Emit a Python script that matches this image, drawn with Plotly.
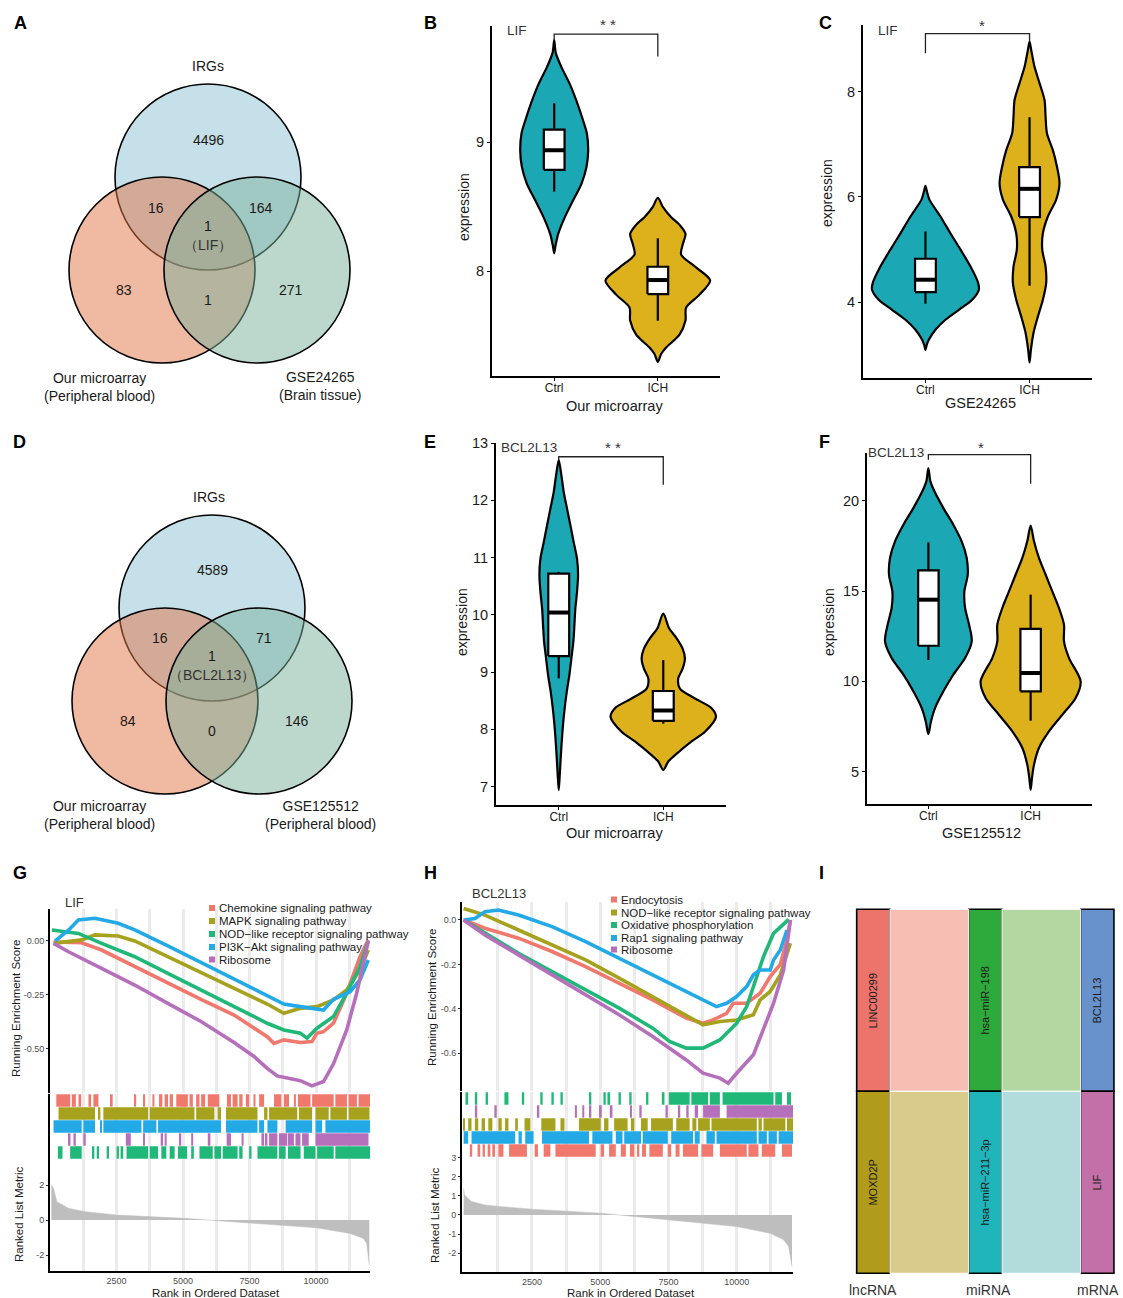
import plotly.graph_objects as go

W, H = 1123, 1298
FONT = "Liberation Sans, Arial, Helvetica, sans-serif"

# ===================== DATA =====================
# --- Venn A / D ---
venn_a_sets = ["IRGs", "Our microarray<br>(Peripheral blood)", "GSE24265<br>(Brain tissue)"]
venn_a_counts = [4496, 16, 164, 1, 83, 1, 271]   # top, top&left, top&right, all, left, left&right, right
venn_a_core = "（LIF）"
venn_d_sets = ["IRGs", "Our microarray<br>(Peripheral blood)", "GSE125512<br>(Peripheral blood)"]
venn_d_counts = [4589, 16, 71, 1, 84, 0, 146]
venn_d_core = "（BCL2L13）"

groups = ["Ctrl", "ICH"]

# --- violins: levels (y) and half-widths (w); boxes = [low whisker, q1, median, q3, high whisker]
b_ctrl_y = [8.14, 8.20, 8.29, 8.42, 8.55, 8.68, 8.81, 8.94, 9.07, 9.19, 9.32, 9.45, 9.58, 9.69, 9.79]
b_ctrl_w = [0, 0.013, 0.039, 0.103, 0.183, 0.264, 0.312, 0.328, 0.315, 0.270, 0.215, 0.151, 0.071, 0.016, 0]
b_ich_y = [7.30, 7.36, 7.41, 7.51, 7.62, 7.72, 7.82, 7.93, 8.03, 8.13, 8.21, 8.29, 8.36, 8.42, 8.50, 8.57]
b_ich_w = [0, 0.032, 0.080, 0.209, 0.267, 0.273, 0.402, 0.505, 0.370, 0.225, 0.241, 0.267, 0.210, 0.129, 0.048, 0]
b_box_ctrl = [8.618, 8.786, 8.938, 9.098, 9.302]
b_box_ich = [7.618, 7.824, 7.933, 8.036, 8.256]
b_sig = [9.79, 9.837, 9.664]

c_ctrl_y = [3.10, 3.20, 3.29, 3.48, 3.67, 3.86, 4.05, 4.24, 4.37, 4.68, 5.00, 5.31, 5.63, 5.95, 6.10, 6.21]
c_ctrl_w = [0, 0.013, 0.032, 0.096, 0.192, 0.321, 0.449, 0.513, 0.506, 0.433, 0.337, 0.240, 0.144, 0.038, 0.015, 0]
c_ich_y = [2.86, 3.10, 3.42, 3.73, 4.05, 4.37, 4.68, 5.00, 5.31, 5.63, 5.95, 6.26, 6.58, 6.89, 7.21, 7.53, 7.84, 8.16, 8.47, 8.79, 8.95]
c_ich_w = [0, 0.013, 0.038, 0.080, 0.128, 0.160, 0.154, 0.122, 0.128, 0.176, 0.256, 0.288, 0.263, 0.224, 0.167, 0.154, 0.144, 0.096, 0.048, 0.016, 0]
c_box_ctrl = [3.975, 4.196, 4.43, 4.828, 5.346]
c_box_ich = [4.316, 5.618, 6.155, 6.566, 7.513]
c_sig = [8.73, 9.10, 8.95]

e_ctrl_y = [6.94, 7.21, 7.50, 7.79, 8.08, 8.37, 8.66, 8.95, 9.24, 9.53, 9.82, 10.11, 10.40, 10.69, 10.98, 11.27, 11.56, 11.85, 12.14, 12.43, 12.70]
e_ctrl_w = [0, 0.010, 0.019, 0.029, 0.041, 0.057, 0.077, 0.102, 0.121, 0.140, 0.150, 0.159, 0.175, 0.185, 0.175, 0.143, 0.112, 0.080, 0.048, 0.026, 0]
e_ich_y = [7.29, 7.44, 7.55, 7.79, 7.96, 8.22, 8.37, 8.54, 8.71, 8.89, 9.06, 9.24, 9.41, 9.59, 9.76, 10.02]
e_ich_w = [0, 0.048, 0.112, 0.271, 0.399, 0.504, 0.462, 0.303, 0.159, 0.143, 0.185, 0.207, 0.185, 0.128, 0.057, 0]
e_box_ctrl = [8.89, 9.28, 10.04, 10.72, 10.75]
e_box_ich = [8.10, 8.15, 8.33, 8.67, 9.21]
e_sig = [12.70, 12.76, 12.27]

f_ctrl_y = [7.08, 7.79, 8.52, 9.45, 10.37, 11.29, 12.21, 13.14, 14.06, 14.98, 15.90, 16.83, 17.75, 18.67, 19.59, 20.52, 21.07, 21.81]
f_ctrl_w = [0, 0.026, 0.065, 0.147, 0.244, 0.359, 0.424, 0.398, 0.359, 0.352, 0.385, 0.375, 0.326, 0.244, 0.147, 0.059, 0.020, 0]
f_ich_y = [4.00, 4.65, 5.39, 6.31, 7.23, 8.15, 9.08, 10.00, 11.29, 12.21, 13.14, 14.06, 14.98, 15.90, 16.83, 17.75, 18.62]
f_ich_w = [0, 0.013, 0.033, 0.081, 0.179, 0.310, 0.440, 0.489, 0.375, 0.326, 0.326, 0.277, 0.212, 0.147, 0.081, 0.033, 0]
f_box_ctrl = [11.18, 11.97, 14.52, 16.14, 17.69]
f_box_ich = [7.82, 9.45, 10.46, 12.90, 14.80]
f_sig = [22.27, 22.55, 20.94]

# --- GSEA G (LIF) ---
g_names = ["Chemokine signaling pathway", "MAPK signaling pathway", "NOD−like receptor signaling pathway",
           "PI3K−Akt signaling pathway", "Ribosome"]
g_chem_rank = [133, 1192, 1940, 3185, 4430, 5676, 6921, 8167, 8416, 8790, 9412, 9848, 10035, 10284, 10657, 11155, 11654, 11966]
g_chem_es = [-0.005, -0.008, -0.042, -0.119, -0.196, -0.270, -0.343, -0.443, -0.474, -0.458, -0.470, -0.466, -0.427, -0.420, -0.381, -0.242, -0.073, 0.005]
g_mapk_rank = [133, 694, 1192, 1690, 2562, 3185, 4430, 5676, 6921, 8167, 8790, 9412, 10035, 10657, 11155, 11654, 11966]
g_mapk_es = [-0.011, -0.003, 0.005, 0.028, 0.023, 0.0, -0.073, -0.142, -0.219, -0.292, -0.335, -0.312, -0.304, -0.273, -0.227, -0.134, -0.042]
g_nod_rank = [71, 1067, 1940, 3185, 4430, 5676, 6921, 8167, 8790, 9412, 9661, 10035, 10657, 11155, 11654, 11966]
g_nod_es = [0.051, 0.035, -0.011, -0.073, -0.150, -0.227, -0.304, -0.381, -0.412, -0.427, -0.450, -0.404, -0.350, -0.242, -0.119, 0.0]
g_pi3k_rank = [196, 694, 1067, 1690, 2562, 3185, 4430, 5676, 6921, 8167, 8790, 9412, 10284, 10657, 11280, 11654, 11966]
g_pi3k_es = [0.0, 0.050, 0.097, 0.105, 0.082, 0.051, -0.023, -0.100, -0.180, -0.258, -0.292, -0.304, -0.320, -0.270, -0.235, -0.180, -0.088]
g_rib_rank = [133, 694, 1940, 3185, 4430, 5676, 6921, 7668, 8167, 8540, 9412, 9848, 10284, 10657, 11155, 11529, 11966]
g_rib_es = [-0.011, -0.050, -0.127, -0.204, -0.289, -0.373, -0.470, -0.535, -0.590, -0.625, -0.647, -0.671, -0.651, -0.569, -0.412, -0.242, 0.0]
g_metric_rank = [50, 133, 258, 694, 1317, 2500, 5054, 5926, 7482, 10011, 11281, 11779, 11903, 12003]
g_metric_val = [2.0, 1.81, 1.05, 0.67, 0.48, 0.29, 0.10, 0.0, -0.19, -0.44, -0.76, -1.05, -1.33, -2.57]
g_hits_chem = [[237, 760], [822, 972], [1071, 1171], [1445, 1545], [1632, 1819], [2293, 2355], [3165, 3240], [3501, 3576],
               [3850, 3925], [4099, 4224], [4311, 4436], [4498, 4623], [4747, 5183], [5245, 5370], [5495, 5620], [5682, 5831],
               [5931, 6367], [6654, 6803], [6865, 7052], [7114, 7239], [7363, 7488], [7650, 7725], [7862, 8049], [8423, 8697],
               [8797, 8984], [9170, 9245], [9320, 9793], [9855, 10665], [10727, 11163], [11226, 11537], [11600, 12036]]
g_hits_mapk = [[321, 1694], [1819, 1894], [2006, 3688], [3750, 5432], [5495, 6180], [6305, 6430], [6616, 7800], [8049, 8174],
               [8236, 9295], [9357, 9855], [9980, 10478], [10540, 11163], [11226, 12011]]
g_hits_pi3k = [[134, 1192], [1255, 1694], [1881, 1943], [2006, 3439], [3501, 4000], [4062, 6429], [6616, 7800], [7862, 8049],
               [8174, 8548], [8859, 9855], [9980, 10229], [10353, 12036]]
g_hits_rib = [[695, 770], [882, 970], [1255, 1343], [2850, 3037], [3501, 3563], [4161, 4249], [4311, 4386], [4872, 4934],
              [5308, 5383], [5931, 6030], [6641, 6803], [7202, 7277], [7949, 8049], [8112, 8174], [8236, 8548], [8610, 8921],
              [8946, 9170], [9228, 9415], [9477, 9726], [9980, 11973]]
g_hits_nod = [[296, 470], [757, 1192], [1592, 1667], [1757, 1843], [2130, 2217], [2504, 2591], [2653, 2753], [2877, 3688],
              [3750, 4062], [4186, 4373], [4498, 4685], [4809, 5158], [5308, 5408], [5619, 6118], [6180, 6430], [6492, 7052],
              [7114, 7239], [7488, 7575], [7800, 8548], [8610, 8859], [8946, 9420], [9540, 9980], [10042, 10665], [10727, 12036]]

# --- GSEA H (BCL2L13) ---
h_names = ["Endocytosis", "NOD−like receptor signaling pathway", "Oxidative phosphorylation",
           "Rap1 signaling pathway", "Ribosome"]
h_endo_rank = [0, 780, 2009, 3238, 4467, 5696, 6925, 8154, 8769, 9137, 9629, 9875, 10366, 10858, 11227, 11596, 11842, 11965]
h_endo_es = [0.0, -0.037, -0.082, -0.142, -0.210, -0.285, -0.360, -0.442, -0.465, -0.450, -0.420, -0.375, -0.375, -0.330, -0.255, -0.200, -0.090, 0.0]
h_nod_rank = [0, 410, 780, 2009, 3238, 4467, 5696, 6925, 8154, 8769, 9383, 9998, 10612, 10858, 11227, 11596, 11965]
h_nod_es = [0.052, 0.037, 0.022, -0.045, -0.112, -0.180, -0.262, -0.345, -0.427, -0.472, -0.457, -0.450, -0.427, -0.360, -0.322, -0.247, -0.105]
h_oxphos_rank = [0, 780, 2009, 3238, 4467, 5696, 6925, 7540, 8154, 8769, 9383, 9998, 10366, 10612, 10981, 11350, 11719, 11903]
h_oxphos_es = [0.0, -0.060, -0.150, -0.232, -0.315, -0.397, -0.487, -0.547, -0.577, -0.577, -0.540, -0.465, -0.390, -0.300, -0.165, -0.060, -0.015, 0.003]
h_rap1_rank = [0, 410, 780, 1272, 2009, 3238, 4467, 5696, 6925, 8154, 8769, 9260, 9629, 9998, 10366, 10612, 10858, 11227, 11350, 11596, 11842]
h_rap1_es = [0.0, 0.007, 0.037, 0.045, 0.022, -0.030, -0.097, -0.172, -0.247, -0.322, -0.360, -0.390, -0.375, -0.345, -0.300, -0.247, -0.225, -0.225, -0.180, -0.135, -0.045]
h_rib_rank = [0, 780, 2009, 3238, 4467, 5696, 6925, 8154, 8769, 9383, 9690, 9998, 10612, 10981, 11350, 11719, 11965]
h_rib_es = [0.0, -0.067, -0.157, -0.247, -0.337, -0.427, -0.525, -0.630, -0.690, -0.712, -0.735, -0.690, -0.607, -0.495, -0.375, -0.225, 0.0]
h_metric_rank = [0, 30, 289, 780, 1395, 2501, 5020, 5696, 7479, 9998, 11227, 11719, 11903, 12026]
h_metric_val = [1.39, 1.04, 0.70, 0.52, 0.43, 0.30, 0.09, 0.0, -0.26, -0.61, -0.96, -1.30, -1.65, -2.70]
h_hits_oxphos = [[68, 166], [412, 498], [805, 891], [1493, 1641], [2132, 2218], [2808, 2894], [3214, 3300], [3546, 3632],
                 [4590, 4676], [5119, 5205], [5266, 5364], [5672, 5758], [6065, 6151], [6680, 6766], [7257, 7355], [7515, 8277],
                 [8339, 8953], [9015, 9384], [9482, 11350], [11411, 11657], [11841, 11989]]
h_hits_rib = [[412, 498], [1125, 1211], [2685, 2771], [4074, 4148], [4345, 4418], [4590, 4676], [4959, 5057], [5352, 5450],
              [6090, 6164], [6434, 6520], [7392, 7478], [7847, 7933], [8154, 8240], [8462, 8585], [8769, 9384], [9630, 12063]]
h_hits_nod = [[0, 50], [166, 289], [412, 535], [658, 781], [903, 1051], [1272, 1395], [1518, 1641], [1887, 1985], [2231, 2440],
              [2845, 3362], [3546, 3693], [4221, 5020], [5143, 5303], [5512, 6004], [6127, 6250], [6496, 6741], [6864, 7663],
              [7786, 8277], [8376, 8523], [8585, 9015], [9077, 10737], [10798, 10921], [10982, 11781], [11841, 12063]]
h_hits_rap1 = [[0, 166], [289, 1887], [2010, 2132], [2255, 2562], [2870, 4590], [4713, 5450], [5573, 5819], [5881, 6496],
               [6557, 7478], [7601, 8400], [8462, 8646], [8892, 9200], [9261, 10737], [10798, 11105], [11165, 11472], [11534, 12063]]
h_hits_endo = [[227, 313], [510, 608], [694, 780], [879, 977], [1051, 1150], [1272, 1456], [1665, 2317], [2600, 2722],
               [2931, 3177], [3362, 4836], [5020, 5143], [5327, 5573], [5758, 5942], [6090, 6250], [6373, 6434], [6533, 6680],
               [6802, 7294], [7478, 7601], [7761, 7908], [8031, 8585], [8708, 9138], [9384, 10368], [10429, 10798],
               [10921, 11411], [11657, 12026]]

# --- Alluvial I ---
lnc_nodes = ["LINC00299", "MOXD2P"]
mirna_nodes = ["hsa−miR−198", "hsa−miR−211−3p"]
mrna_nodes = ["BCL2L13", "LIF"]
axis_names = ["lncRNA", "miRNA", "mRNA"]
link_freq = [1, 1]   # LINC00299 -> miR-198 -> BCL2L13 ; MOXD2P -> miR-211-3p -> LIF

# ===================== STYLE =====================
CTRL_COL = "#1BA7B3"
ICH_COL = "#DDB11C"
RED, OLIVE, GREEN, BLUE, PURPLE = "#F0786D", "#A6A21E", "#20B878", "#22A9E6", "#B66FBA"
GRID = "#EBEBEB"
# the page is shown with an 8 px top offset and ~1290 px of usable height
Y_OFF, H_EFF = 8.0, 1290.0

fig = go.Figure()
annos, shapes, axes = [], [], {}


def fx(x):
    return x / W


def fy(y):
    return 1 - (y - Y_OFF) / H_EFF


def ref(n):
    return ("x", "y") if n == 1 else (f"x{n}", f"y{n}")


def set_axes(n, xpx, ypx, xc, yc):
    xr, yr = ref(n)
    xk = "xaxis" if n == 1 else f"xaxis{n}"
    yk = "yaxis" if n == 1 else f"yaxis{n}"
    axes[xk] = dict(domain=[fx(xpx[0]), fx(xpx[1])], anchor=yr, **xc)
    axes[yk] = dict(domain=[fy(ypx[1]), fy(ypx[0])], anchor=xr, **yc)


def text(t, x, y, size=12, color="#1a1a1a", xa="center", ya="middle", angle=0, xref="paper", yref="paper"):
    if xref == "paper":
        x = fx(x)
    if yref == "paper":
        y = fy(y)
    annos.append(dict(text=t, x=x, y=y, xref=xref, yref=yref, showarrow=False, xanchor=xa, yanchor=ya,
                      textangle=angle, font=dict(family=FONT, size=size, color=color)))


# ---------- panel letters ----------
for letter, (lx, ly) in zip("ABCDEFGHI", [(20, 23), (430, 23), (825, 23), (19, 442), (430, 442), (824, 442),
                                            (20, 873), (430, 873), (821, 873)]):
    text(f"<b>{letter}</b>", lx, ly, 18, "black")

# ---------- Venn ----------
VENN_FILLS = ["rgba(139,193,209,0.5)", "rgba(225,115,69,0.5)", "rgba(121,177,155,0.5)"]


def venn(centers, r, counts, count_pos, core, core_pos, sets, set_pos):
    for (cx, cy), fc in zip(centers, VENN_FILLS):
        shapes.append(dict(type="circle", xref="paper", yref="paper", x0=fx(cx - r), x1=fx(cx + r),
                           y0=fy(cy + r), y1=fy(cy - r), fillcolor=fc, line=dict(color="black", width=1.6)))
    for c, (x, y) in zip(counts, count_pos):
        text(str(c), x, y, 14, "#1a1a1a")
    text(core, core_pos[0], core_pos[1], 14, "#333333")
    for s, (x, y) in zip(sets, set_pos):
        text(s, x, y, 14, "#1a1a1a")


venn([(208, 177), (162, 270), (257, 270)], 93, venn_a_counts,
     [(208, 140), (156, 208), (261, 208), (208, 226), (124, 290), (208, 300), (291, 290)],
     venn_a_core, (208, 245), venn_a_sets, [(208, 66), (99, 387), (320, 386)])
venn([(212, 608), (165, 701), (259, 701)], 93, venn_d_counts,
     [(212, 570), (160, 638), (264, 638), (212, 656), (128, 721), (212, 731), (297, 721)],
     venn_d_core, (212, 675), venn_d_sets, [(209, 497), (99, 815), (320, 815)])


# ---------- Violins ----------
def violin_xy(pos, ys, ws):
    xs = [pos + w for w in ws] + [pos - w for w in ws[-2:0:-1]] + [pos]
    yy = list(ys) + list(ys[-2:0:-1]) + [ys[0]]
    return xs, yy


BOX_HW = 0.1


def violin_panel(n, xpx, ypx, yrange, yticks, data, boxes, sig, stars, gene, gene_px, star_px,
                 xtitle, xtitle_px, ytitle_px):
    xr, yr = ref(n)
    for pos, (ys, ws), col in zip([1, 2], data, [CTRL_COL, ICH_COL]):
        vx, vy = violin_xy(pos, ys, ws)
        fig.add_trace(go.Scatter(x=vx, y=vy, fill="toself", fillcolor=col, mode="lines",
                                 line=dict(color="black", width=2.2, shape="spline", smoothing=0.8),
                                 xaxis=xr, yaxis=yr, hoverinfo="skip"))
    for pos, b in zip([1, 2], boxes):
        lo, q1, med, q3, hi = b
        fig.add_trace(go.Scatter(x=[pos, pos, None, pos, pos], y=[lo, q1, None, q3, hi], mode="lines",
                                 line=dict(color="black", width=2.2), xaxis=xr, yaxis=yr, hoverinfo="skip"))
        fig.add_trace(go.Scatter(x=[pos - BOX_HW, pos + BOX_HW, pos + BOX_HW, pos - BOX_HW, pos - BOX_HW],
                                 y=[q1, q1, q3, q3, q1], mode="lines", fill="toself", fillcolor="white",
                                 line=dict(color="black", width=2.2), xaxis=xr, yaxis=yr, hoverinfo="skip"))
        fig.add_trace(go.Scatter(x=[pos - BOX_HW, pos + BOX_HW], y=[med, med], mode="lines",
                                 line=dict(color="black", width=4), xaxis=xr, yaxis=yr, hoverinfo="skip"))
    fig.add_trace(go.Scatter(x=[1, 1, 2, 2], y=[sig[0], sig[1], sig[1], sig[2]], mode="lines",
                             line=dict(color="#222222", width=1.3), xaxis=xr, yaxis=yr, hoverinfo="skip"))
    set_axes(n, xpx, ypx,
             dict(range=[0.4, 2.6], tickvals=[1, 2], ticktext=groups, showline=True, linecolor="black", linewidth=2,
                  ticks="outside", ticklen=3, tickcolor="black", tickfont=dict(family=FONT, size=12, color="#1a1a1a"),
                  ticklabelstandoff=-3, showgrid=False, zeroline=False),
             dict(range=yrange, tickvals=yticks, ticktext=[str(t) for t in yticks], showline=True, linecolor="black",
                  linewidth=2, ticks="outside", ticklen=3, tickcolor="black",
                  tickfont=dict(family=FONT, size=14.5, color="#1a1a1a"), showgrid=False, zeroline=False))
    text(gene, gene_px[0], gene_px[1], 13.5, "#333333", xa="left")
    text(stars, star_px[0], star_px[1], 15, "#333333")
    text(xtitle, xtitle_px[0], xtitle_px[1], 14.5, "#1a1a1a")
    text("expression", ytitle_px[0], ytitle_px[1], 14, "#1a1a1a", angle=-90)


violin_panel(1, (492, 720), (26, 376), [7.19, 9.90], [8, 9], [(b_ctrl_y, b_ctrl_w), (b_ich_y, b_ich_w)],
             [b_box_ctrl, b_box_ich], b_sig, "* *", "LIF", (505, 31), (608, 25), "Our microarray", (614, 406), (464, 207))
violin_panel(2, (863, 1092), (25, 378), [2.565, 9.264], [4, 6, 8], [(c_ctrl_y, c_ctrl_w), (c_ich_y, c_ich_w)],
             [c_box_ctrl, c_box_ich], c_sig, "*", "LIF", (876, 31), (982, 26), "GSE24265", (980, 403), (827, 193))
violin_panel(3, (496, 726), (443, 805), [6.68, 13.0], [7, 8, 9, 10, 11, 12, 13],
             [(e_ctrl_y, e_ctrl_w), (e_ich_y, e_ich_w)], [e_box_ctrl, e_box_ich], e_sig, "* *", "BCL2L13",
             (499, 448), (613, 448), "Our microarray", (614, 833), (462, 622))
violin_panel(4, (867, 1092), (453, 804), [3.21, 22.64], [5, 10, 15, 20], [(f_ctrl_y, f_ctrl_w), (f_ich_y, f_ich_w)],
             [f_box_ctrl, f_box_ich], f_sig, "*", "BCL2L13", (866, 452), (981, 448), "GSE125512", (981, 833), (829, 622))


# ---------- GSEA ----------
GRID_VALS = [1250, 2500, 3750, 5000, 6250, 7500, 8750, 10000, 11250]
GRID_TEXT = ["", "2500", "", "5000", "", "7500", "", "10000", ""]


def gsea_panel(n0, xpx, es_px, hit_px, met_px, xrange, es_range, es_tv, es_tt, met_range, met_tv, met_tt,
               curves, metric, hit_rows, legend_items, legend_x, legend_y, gene, gene_px, ytitle_x, es_title_y,
               met_title_y, xtitle_px):
    base_x = dict(range=xrange, tickmode="array", tickvals=GRID_VALS, showgrid=True, gridcolor=GRID, gridwidth=2.6,
                  zeroline=False, ticks="")
    base_y = dict(showline=True, linecolor="black", linewidth=2, showgrid=False, zeroline=False)
    tick_font = dict(family=FONT, size=9, color="#4D4D4D")
    xr, yr = ref(n0)
    for rank, es, col in curves:
        fig.add_trace(go.Scatter(x=rank, y=es, mode="lines", line=dict(color=col, width=3.6),
                                 xaxis=xr, yaxis=yr, hoverinfo="skip"))
    set_axes(n0, xpx, es_px, dict(base_x, showticklabels=False),
             dict(base_y, range=es_range, tickvals=es_tv, ticktext=es_tt, ticks="outside", ticklen=2,
                  tickcolor="#333333", tickfont=tick_font))
    xr, yr = ref(n0 + 1)
    for i, (ranges, col) in enumerate(hit_rows):
        fig.add_trace(go.Bar(orientation="h", y=[i] * len(ranges), x=[e - s for s, e in ranges],
                             base=[s for s, e in ranges], width=0.96, marker=dict(color=col, line=dict(width=0)),
                             xaxis=xr, yaxis=yr, hoverinfo="skip"))
    set_axes(n0 + 1, xpx, hit_px, dict(base_x, showticklabels=False),
             dict(base_y, range=[len(hit_rows) - 0.5, -0.5], showticklabels=False, ticks=""))
    xr, yr = ref(n0 + 2)
    rank, val = metric
    fig.add_trace(go.Scatter(x=rank, y=val, mode="lines", fill="tozeroy", fillcolor="#BEBEBE",
                             line=dict(color="#BEBEBE", width=0.5), xaxis=xr, yaxis=yr, hoverinfo="skip"))
    set_axes(n0 + 2, xpx, met_px,
             dict(base_x, ticktext=GRID_TEXT, showline=True, linecolor="black", linewidth=2, tickfont=tick_font),
             dict(base_y, range=met_range, tickvals=met_tv, ticktext=met_tt, ticks="outside", ticklen=2,
                  tickcolor="#333333", tickfont=tick_font))
    for (name, col), ly in zip(legend_items, legend_y):
        shapes.append(dict(type="rect", xref="paper", yref="paper", x0=fx(legend_x - 7.5), x1=fx(legend_x - 1.5),
                           y0=fy(ly + 3), y1=fy(ly - 3), fillcolor=col, line=dict(width=0)))
        text(name, legend_x, ly, 11.5, "#1a1a1a", xa="left")
    text(gene, gene_px[0], gene_px[1], 13, "#333333", xa="left")
    text("Running Enrichment Score", ytitle_x, es_title_y, 11.5, "#1a1a1a", angle=-90)
    text("Ranked List Metric", ytitle_x + 3, met_title_y, 11.5, "#1a1a1a", angle=-90)
    text("Rank in Ordered Dataset", xtitle_px[0], xtitle_px[1], 11.5, "#1a1a1a")


gsea_panel(5, (50, 370), (909, 1093), (1094, 1159), (1159, 1271), [0, 12030], [-0.704, 0.148],
           [0, -0.25, -0.5], ["0.00", "-0.25", "-0.50"], [-2.91, 3.49], [2, 0, -2], ["2", "0", "-2"],
           [(g_chem_rank, g_chem_es, RED), (g_mapk_rank, g_mapk_es, OLIVE), (g_nod_rank, g_nod_es, GREEN),
            (g_pi3k_rank, g_pi3k_es, BLUE), (g_rib_rank, g_rib_es, PURPLE)],
           (g_metric_rank, g_metric_val),
           [(g_hits_chem, RED), (g_hits_mapk, OLIVE), (g_hits_pi3k, BLUE), (g_hits_rib, PURPLE), (g_hits_nod, GREEN)],
           list(zip(g_names, [RED, OLIVE, GREEN, BLUE, PURPLE])), 216.5, [908, 921, 934, 947, 959.5],
           "LIF", (63, 902), 16, 1009, 1215, (216, 1293))

gsea_panel(8, (462, 793), (902, 1091), (1092, 1157), (1157, 1272), [-60, 12062], [-0.770, 0.081],
           [0, -0.2, -0.4, -0.6], ["0.0", "-0.2", "-0.4", "-0.6"], [-2.98, 3.02], [3, 2, 1, 0, -1, -2],
           ["3", "2", "1", "0", "-1", "-2"],
           [(h_endo_rank, h_endo_es, RED), (h_nod_rank, h_nod_es, OLIVE), (h_oxphos_rank, h_oxphos_es, GREEN),
            (h_rap1_rank, h_rap1_es, BLUE), (h_rib_rank, h_rib_es, PURPLE)],
           (h_metric_rank, h_metric_val),
           [(h_hits_oxphos, GREEN), (h_hits_rib, PURPLE), (h_hits_nod, OLIVE), (h_hits_rap1, BLUE), (h_hits_endo, RED)],
           list(zip(h_names, [RED, OLIVE, GREEN, BLUE, PURPLE])), 618.5, [899.5, 912.5, 925, 938, 949.5],
           "BCL2L13", (470, 893), 432, 998, 1216, (631, 1293))

# ---------- Alluvial I ----------
NODE_COLS = [["#EC746A", "#B19B1A"], ["#2EAA3C", "#1FB5BA"], ["#6892CC", "#C370A8"]]
FLOW_COLS = [["#F7BEB4", "#D8CB8C"], ["#B2D7A0", "#B2DCDC"]]
BW = 0.297
n_i = 11
xr, yr = ref(n_i)
total = sum(link_freq)
bases = []
acc = total
for f in link_freq:
    acc -= f
    bases.append(acc)
for c in range(2):
    for k, f in enumerate(link_freq):
        x0, x1 = c + 1 + BW / 2, c + 2 - BW / 2
        b0 = bases[k]
        fig.add_trace(go.Scatter(x=[x0, x1, x1, x0, x0], y=[b0, b0, b0 + f, b0 + f, b0], fill="toself",
                                 fillcolor=FLOW_COLS[c][k], mode="lines", line=dict(color="white", width=1),
                                 xaxis=xr, yaxis=yr, hoverinfo="skip"))
for c, nodes in enumerate([lnc_nodes, mirna_nodes, mrna_nodes]):
    fig.add_trace(go.Bar(x=[c + 1] * len(nodes), y=link_freq, base=bases, width=BW,
                         marker=dict(color=NODE_COLS[c], line=dict(color="black", width=1.6)),
                         xaxis=xr, yaxis=yr, hoverinfo="skip"))
    for k, name in enumerate(nodes):
        text(name, c + 1, bases[k] + link_freq[k] / 2, 11, "#1a1a1a", angle=-90, xref=xr, yref=yr)
set_axes(n_i, (840, 1123), (907.5, 1275.1),
         dict(range=[0.7027, 3.2295], showgrid=False, zeroline=False, showticklabels=False, ticks=""),
         dict(range=[-0.01, 2.01], showgrid=False, zeroline=False, showticklabels=False, ticks=""))
for name, lx in zip(axis_names, [873, 988, 1098]):
    text(name, lx, 1290, 14, "#333333")

fig.update_layout(width=W, height=H, margin=dict(l=0, r=0, t=0, b=0), paper_bgcolor="white", plot_bgcolor="white",
                  showlegend=False, barmode="overlay", annotations=annos, shapes=shapes,
                  font=dict(family=FONT), **axes)
fig.write_html("out.html")
